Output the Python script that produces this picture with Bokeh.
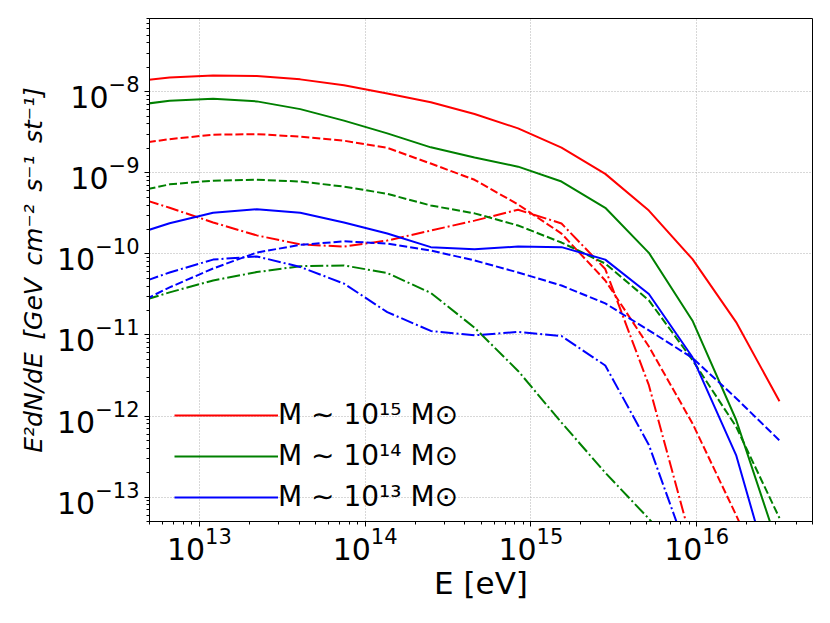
from bokeh.plotting import figure
from bokeh.models import Legend, LegendItem
from bokeh.embed import file_html
from bokeh.resources import INLINE

# Energy grid (eV)
E = [3.61e12, 6.61e12, 1.21e13, 2.22e13, 4.06e13, 7.45e13, 1.36e14, 2.49e14,
     4.57e14, 8.37e14, 1.53e15, 2.81e15, 5.15e15, 9.44e15, 1.73e16, 3.16e16]

# M ~ 1e15 Msun
m15_total = [1.30e-8, 1.50e-8, 1.59e-8, 1.56e-8, 1.42e-8, 1.20e-8, 9.5e-9, 7.4e-9,
             5.3e-9, 3.53e-9, 2.04e-9, 9.7e-10, 3.42e-10, 8.6e-11, 1.44e-11, 1.52e-12]
m15_dash = [2.19e-9, 2.6e-9, 2.95e-9, 3.0e-9, 2.79e-9, 2.49e-9, 2.03e-9, 1.30e-9,
            8.2e-10, 4.06e-10, 1.78e-10, 4.7e-11, 7.2e-12, 8.1e-13, 6.0e-14, 4.0e-15]
m15_dashdot = [5.5e-10, 3.7e-10, 2.44e-10, 1.69e-10, 1.31e-10, 1.23e-10, 1.46e-10,
               1.94e-10, 2.57e-10, 3.5e-10, 2.37e-10, 6.5e-11, 2.4e-12, 2.5e-14]

# M ~ 1e14 Msun
m14_total = [6.6e-9, 7.75e-9, 8.2e-9, 7.6e-9, 6.1e-9, 4.4e-9, 3.06e-9, 2.06e-9,
             1.54e-9, 1.19e-9, 7.8e-10, 3.70e-10, 1.03e-10, 1.5e-11, 9.0e-13, 2.2e-14]
m14_dash = [5.5e-10, 7.2e-10, 8.0e-10, 8.2e-10, 7.8e-10, 6.76e-10, 5.5e-10, 3.95e-10,
            3.16e-10, 2.24e-10, 1.38e-10, 7.6e-11, 2.67e-11, 4.9e-12, 7.4e-13, 5.5e-14]
m14_dashdot = [2.3e-11, 3.35e-11, 4.7e-11, 5.96e-11, 7.05e-11, 7.2e-11, 5.8e-11,
               3.3e-11, 1.23e-11, 3.6e-12, 8.3e-13, 2.0e-13, 5.4e-14, 1.4e-14]

# M ~ 1e13 Msun
m13_total = [1.6e-10, 2.39e-10, 3.21e-10, 3.55e-10, 3.21e-10, 2.44e-10, 1.78e-10,
             1.21e-10, 1.14e-10, 1.23e-10, 1.21e-10, 8.5e-11, 3.2e-11, 5.3e-12,
             3.3e-13, 4.5e-15]
m13_dash = [2.1e-11, 3.86e-11, 6.6e-11, 1.04e-10, 1.29e-10, 1.43e-10, 1.34e-10, 1.1e-10,
            8.3e-11, 5.9e-11, 4.07e-11, 2.45e-11, 1.14e-11, 5.2e-12, 1.66e-12, 5.0e-13]
m13_dashdot = [3.8e-11, 5.9e-11, 8.5e-11, 9.3e-11, 6.9e-11, 4.3e-11, 1.91e-11,
               1.12e-11, 9.9e-12, 1.09e-11, 9.7e-12, 4.2e-12, 4.4e-13, 1.4e-14]

labels = ["M \u223c 10\u00b9\u2075 M\u2299", "M \u223c 10\u00b9\u2074 M\u2299",
          "M \u223c 10\u00b9\u00b3 M\u2299"]
colors = ["#ff0000", "#008000", "#0000ff"]

p = figure(width=822, height=615, x_axis_type="log", y_axis_type="log",
           x_range=(5e12, 5e16), y_range=(5e-14, 8e-8),
           output_backend="svg", toolbar_location=None,
           min_border_left=149, min_border_right=10, min_border_top=18,
           min_border_bottom=94)

series = [(m15_total, m15_dash, m15_dashdot), (m14_total, m14_dash, m14_dashdot),
          (m13_total, m13_dash, m13_dashdot)]
solid_renderers = []
for (tot, dsh, dd), c in zip(series, colors):
    r = p.line(E[:len(tot)], tot, line_color=c, line_width=2)
    solid_renderers.append(r)
    p.line(E[:len(dsh)], dsh, line_color=c, line_width=2, line_dash="8 3")
    p.line(E[:len(dd)], dd, line_color=c, line_width=2, line_dash="13 3 2 3")

# axes styling
p.outline_line_color = "black"
p.outline_line_width = 1
p.grid.grid_line_color = "#b0b0b0"
p.grid.grid_line_dash = "1 2"
p.grid.grid_line_width = 1
for ax in (p.xaxis[0], p.yaxis[0]):
    ax.axis_line_color = "black"
    ax.major_tick_line_color = "black"
    ax.minor_tick_line_color = "black"
    ax.major_tick_out = 5
    ax.major_tick_in = 0
    ax.minor_tick_out = 3
    ax.minor_tick_in = 0
    ax.major_label_text_font = "DejaVu Sans"
    ax.major_label_text_font_size = "30px"
    ax.major_label_text_color = "black"
    ax.axis_label_text_font = "DejaVu Sans"
    ax.axis_label_text_color = "black"

p.xaxis.axis_label = "E [eV]"
p.xaxis.axis_label_text_font_size = "31px"
p.xaxis.axis_label_text_font_style = "normal"
p.xaxis.major_label_standoff = 0
p.xaxis.axis_label_standoff = 2

p.yaxis.axis_label = "E\u00b2dN/dE\u2002[GeV\u2002cm\u207b\u00b2\u2002s\u207b\u00b9\u2002st\u207b\u00b9]"
p.yaxis.axis_label_text_font_size = "25px"
p.yaxis.axis_label_text_font_style = "italic"
p.yaxis.major_label_standoff = 5
p.yaxis.axis_label_standoff = 6

items = [LegendItem(label=lab, renderers=[r]) for lab, r in zip(labels, solid_renderers)]
legend = Legend(items=items, location=(25, 8))
legend.glyph_width = 104
legend.glyph_height = 20
legend.label_height = 20
legend.label_standoff = 0
legend.spacing = 8
legend.padding = 0
legend.margin = 0
legend.border_line_color = None
legend.background_fill_alpha = 0
legend.label_text_font = "DejaVu Sans"
legend.label_text_font_size = "28px"
legend.label_text_color = "black"
legend.label_text_baseline = "alphabetic"
p.add_layout(legend)

open("out.html", "w").write(file_html(p, INLINE))
